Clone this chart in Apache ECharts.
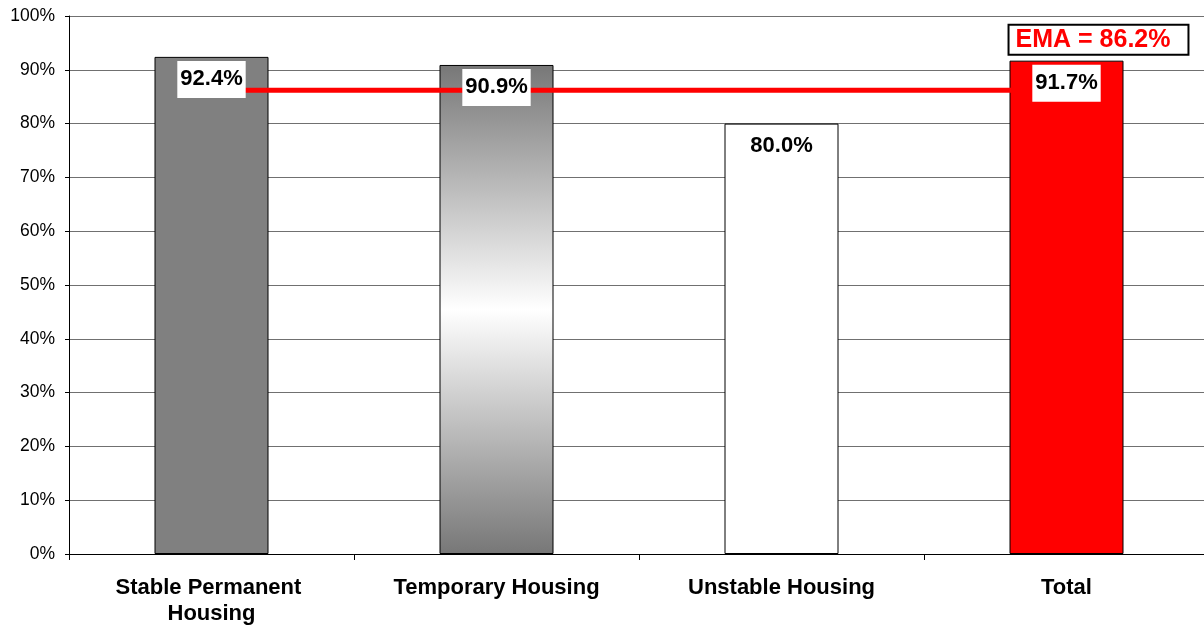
<!DOCTYPE html>
<html>
<head>
<meta charset="utf-8">
<script src="https://cdn.jsdelivr.net/npm/echarts@6/dist/echarts.min.js"></script>
<style>
html,body{margin:0;padding:0;background:#fff;overflow:hidden;}
#chart{width:1212px;height:629px;}
</style>
</head>
<body>
<div id="chart"></div>
<script>
var categories = ['Stable Permanent Housing', 'Temporary Housing', 'Unstable Housing', 'Total'];
var values = [92.4, 90.9, 80.0, 91.7];
var emaValue = 86.2;
var emaLine = [emaValue, emaValue, emaValue, emaValue];

var chart = echarts.init(document.getElementById('chart'));
var gradient = new echarts.graphic.LinearGradient(0, 0, 0, 1, [
  {offset: 0, color: '#777777'},
  {offset: 0.5, color: '#ffffff'},
  {offset: 1, color: '#777777'}
]);
var barColors = ['#808080', gradient, '#ffffff', '#ff0000'];

var option = {
  animation: false,
  backgroundColor: '#ffffff',
  grid: {left: 69, top: 16, bottom: 75, width: 1140, containLabel: false},
  xAxis: {
    type: 'category',
    data: categories,
    axisLine: {lineStyle: {color: '#000', width: 1}},
    axisTick: {show: true, length: 6, lineStyle: {color: '#000'}},
    axisLabel: {
      fontFamily: 'Liberation Sans, Arial, sans-serif',
      fontWeight: 'bold',
      fontSize: 22,
      color: '#000',
      margin: 21,
      lineHeight: 26,
      width: 260,
      overflow: 'break',
      interval: 0
    }
  },
  yAxis: {
    type: 'value',
    min: 0,
    max: 100,
    interval: 10,
    axisLine: {show: true, lineStyle: {color: '#000', width: 1}},
    axisTick: {show: true, length: 4, lineStyle: {color: '#000'}},
    axisLabel: {
      formatter: '{value}%',
      fontFamily: 'Liberation Sans, Arial, sans-serif',
      fontSize: 17.5,
      color: '#000',
      margin: 14
    },
    splitLine: {show: true, lineStyle: {color: '#707070', width: 1}}
  },
  series: [
    {
      type: 'bar',
      z: 2,
      barWidth: '40%',
      data: values.map(function (v, i) {
        return {value: v, itemStyle: {color: barColors[i], borderColor: '#000', borderWidth: 1}};
      })
    },
    {
      type: 'line',
      z: 3,
      data: emaLine.map(function (v, i) {
        var item = {value: v};
        if (i === emaLine.length - 1) {
          item.label = {
            show: true,
            position: 'top',
            distance: 36,
            offset: [32, 0],
            formatter: 'EMA = ' + emaValue.toFixed(1) + '%',
            fontFamily: 'Liberation Sans, Arial, sans-serif',
            fontWeight: 'bold',
            fontSize: 25,
            color: '#ff0000',
            backgroundColor: '#ffffff',
            borderColor: '#000',
            borderWidth: 2,
            padding: [2, 17, 1, 6]
          };
        }
        return item;
      }),
      symbol: 'circle',
      symbolSize: 1,
      showSymbol: true,
      itemStyle: {color: 'rgba(0,0,0,0)'},
      lineStyle: {color: '#ff0000', width: 5},
      label: {show: false}
    },
    {
      type: 'bar',
      z: 4,
      barWidth: '40%',
      barGap: '-100%',
      data: values,
      itemStyle: {color: 'rgba(0,0,0,0)'},
      label: {
        show: true,
        position: 'insideTop',
        distance: 4,
        formatter: function (p) { return p.value.toFixed(1) + '%'; },
        fontFamily: 'Liberation Sans, Arial, sans-serif',
        fontWeight: 'bold',
        fontSize: 22,
        color: '#000',
        backgroundColor: '#ffffff',
        padding: [7, 3, 8, 3]
      }
    }
  ]
};
chart.setOption(option);
</script>
</body>
</html>
